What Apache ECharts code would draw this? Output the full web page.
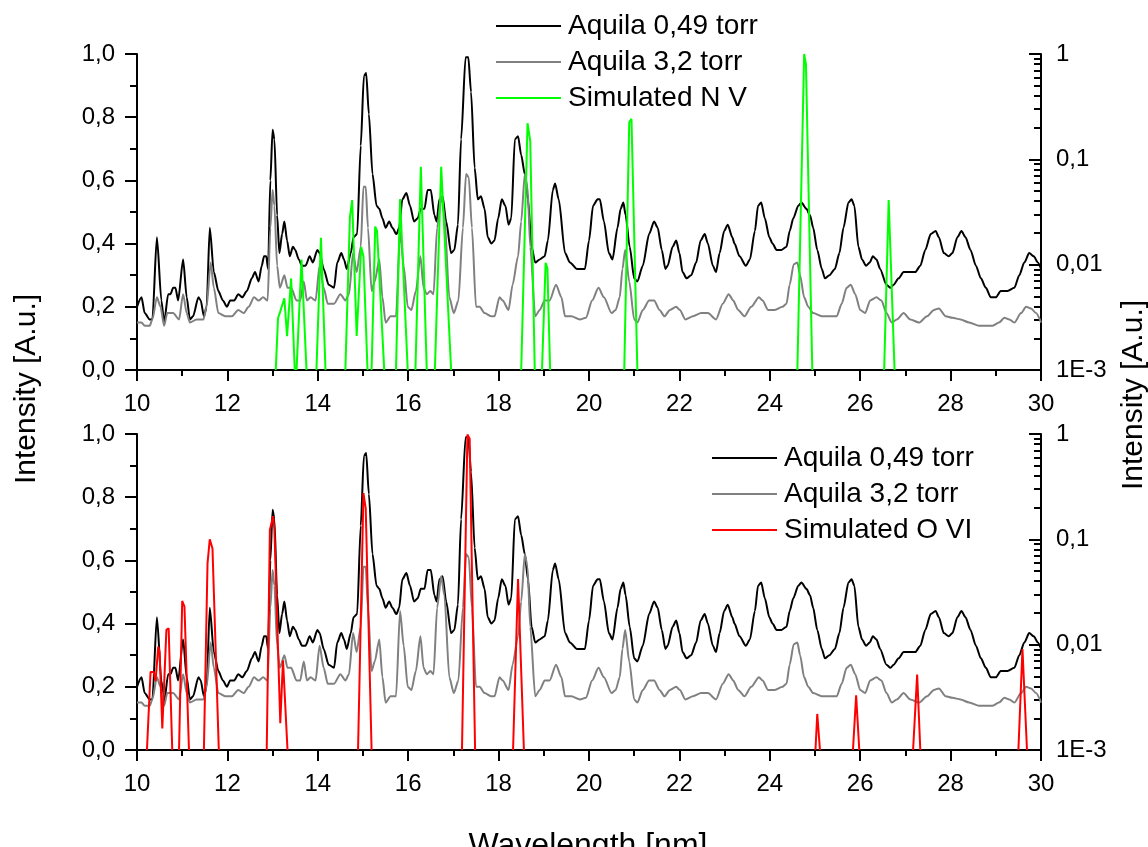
<!DOCTYPE html>
<html>
<head>
<meta charset="utf-8">
<script src="https://cdn.jsdelivr.net/npm/echarts@6/dist/echarts.min.js"></script>
<style>html,body{margin:0;padding:0;background:#fff}#c{width:1148px;height:847px}</style>
</head>
<body>
<div id="c"></div>
<script>
// ---- Data (wavelength in nm, intensity in a.u.) ----
const blackX = [10.0,10.1,10.17,10.28,10.34,10.44,10.54,10.6,10.69,10.74,10.8,10.85,10.91,11.02,11.1,11.17,11.24,11.36,11.41,11.48,11.54,11.61,11.7,11.8,11.9,11.99,12.06,12.15,12.24,12.33,12.43,12.54,12.61,12.69,12.76,12.81,12.86,12.9,12.95,13.0,13.04,13.1,13.15,13.21,13.26,13.32,13.38,13.45,13.5,13.58,13.65,13.73,13.82,13.89,13.99,14.04,14.13,14.24,14.36,14.43,14.52,14.58,14.64,14.73,14.79,14.87,14.95,15.02,15.07,15.13,15.21,15.3,15.36,15.43,15.5,15.58,15.65,15.74,15.8,15.87,15.96,16.04,16.13,16.21,16.28,16.36,16.43,16.5,16.58,16.63,16.69,16.76,16.84,16.95,17.02,17.1,17.17,17.27,17.33,17.39,17.47,17.54,17.61,17.69,17.76,17.84,17.91,17.99,18.07,18.15,18.22,18.28,18.36,18.43,18.5,18.58,18.65,18.73,18.81,18.91,19.02,19.09,19.2,19.25,19.33,19.47,19.58,19.73,19.91,20.0,20.09,20.19,20.24,20.33,20.44,20.52,20.63,20.7,20.76,20.81,20.9,21.0,21.07,21.19,21.33,21.44,21.52,21.61,21.69,21.74,21.85,21.93,22.0,22.07,22.16,22.26,22.37,22.47,22.56,22.63,22.74,22.81,22.89,22.99,23.07,23.17,23.22,23.33,23.47,23.56,23.67,23.74,23.81,23.89,23.99,24.06,24.15,24.26,24.37,24.44,24.52,24.63,24.7,24.81,24.89,24.96,25.05,25.15,25.22,25.32,25.44,25.54,25.63,25.74,25.81,25.87,25.96,26.04,26.13,26.21,26.28,26.36,26.44,26.58,26.67,26.74,26.85,26.96,27.11,27.22,27.33,27.44,27.56,27.67,27.74,27.85,27.96,28.04,28.15,28.24,28.33,28.44,28.56,28.67,28.78,28.89,29.0,29.11,29.26,29.41,29.52,29.63,29.74,29.84,29.93,30.0];
const blackY = [0.20,0.23,0.18,0.16,0.16,0.42,0.22,0.15,0.24,0.24,0.26,0.26,0.22,0.35,0.23,0.16,0.17,0.23,0.22,0.17,0.20,0.45,0.31,0.25,0.22,0.20,0.22,0.22,0.24,0.23,0.25,0.29,0.31,0.28,0.33,0.36,0.36,0.32,0.60,0.76,0.73,0.49,0.37,0.43,0.47,0.41,0.36,0.39,0.38,0.35,0.33,0.33,0.36,0.34,0.38,0.37,0.32,0.27,0.26,0.34,0.37,0.35,0.32,0.37,0.42,0.43,0.71,0.93,0.94,0.81,0.62,0.52,0.51,0.48,0.45,0.47,0.45,0.43,0.45,0.54,0.56,0.52,0.47,0.48,0.51,0.51,0.57,0.57,0.49,0.47,0.54,0.55,0.47,0.37,0.38,0.46,0.73,0.99,0.99,0.88,0.64,0.54,0.55,0.51,0.42,0.40,0.41,0.48,0.54,0.52,0.46,0.48,0.73,0.74,0.68,0.62,0.54,0.39,0.34,0.35,0.36,0.41,0.57,0.59,0.54,0.37,0.34,0.32,0.32,0.41,0.52,0.54,0.54,0.47,0.37,0.35,0.45,0.51,0.53,0.49,0.39,0.29,0.28,0.33,0.43,0.47,0.45,0.38,0.32,0.33,0.39,0.41,0.37,0.31,0.29,0.30,0.34,0.41,0.43,0.40,0.33,0.31,0.37,0.44,0.46,0.42,0.40,0.36,0.33,0.35,0.44,0.52,0.53,0.48,0.42,0.40,0.38,0.38,0.39,0.44,0.48,0.52,0.53,0.51,0.49,0.45,0.38,0.32,0.29,0.30,0.32,0.37,0.45,0.53,0.54,0.52,0.39,0.35,0.33,0.34,0.36,0.35,0.32,0.27,0.26,0.27,0.29,0.31,0.31,0.31,0.33,0.38,0.43,0.44,0.42,0.37,0.36,0.37,0.42,0.44,0.42,0.38,0.33,0.29,0.26,0.23,0.23,0.25,0.25,0.26,0.30,0.34,0.37,0.36,0.34,0.32];

const greyX = [10.0,10.1,10.17,10.28,10.34,10.44,10.52,10.6,10.67,10.8,10.93,11.02,11.1,11.17,11.32,11.47,11.54,11.63,11.7,11.8,11.95,12.1,12.24,12.36,12.47,12.59,12.69,12.79,12.89,12.95,13.0,13.04,13.1,13.16,13.26,13.33,13.41,13.53,13.61,13.69,13.76,13.84,13.95,14.04,14.13,14.22,14.36,14.5,14.61,14.69,14.78,14.86,14.95,15.01,15.06,15.11,15.19,15.26,15.36,15.43,15.5,15.61,15.73,15.82,15.9,15.99,16.07,16.17,16.27,16.34,16.41,16.49,16.56,16.64,16.73,16.8,16.91,17.01,17.11,17.21,17.28,17.34,17.41,17.5,17.58,17.69,17.83,17.91,18.02,18.09,18.22,18.31,18.43,18.5,18.58,18.64,18.7,18.81,18.91,19.02,19.13,19.27,19.39,19.47,19.61,19.8,19.93,20.07,20.21,20.33,20.5,20.59,20.68,20.74,20.8,20.89,21.0,21.07,21.19,21.33,21.44,21.56,21.67,21.79,21.93,22.01,22.13,22.3,22.48,22.63,22.81,22.96,23.09,23.19,23.3,23.44,23.59,23.76,23.84,23.96,24.11,24.28,24.37,24.44,24.53,24.61,24.67,24.76,24.85,24.96,25.15,25.37,25.48,25.59,25.7,25.79,25.89,26.0,26.11,26.22,26.36,26.47,26.58,26.7,26.81,26.96,27.11,27.3,27.48,27.63,27.74,27.89,28.04,28.22,28.41,28.63,28.93,29.07,29.19,29.3,29.41,29.56,29.67,29.78,29.89,30.0];
const greyY = [0.15,0.15,0.14,0.14,0.16,0.23,0.20,0.14,0.18,0.18,0.16,0.24,0.18,0.15,0.16,0.16,0.20,0.34,0.26,0.18,0.17,0.17,0.19,0.18,0.20,0.23,0.22,0.23,0.22,0.45,0.57,0.52,0.33,0.26,0.30,0.26,0.26,0.22,0.22,0.28,0.22,0.23,0.22,0.33,0.26,0.21,0.21,0.24,0.22,0.24,0.37,0.31,0.39,0.58,0.58,0.45,0.25,0.28,0.35,0.23,0.15,0.17,0.17,0.44,0.33,0.20,0.19,0.25,0.36,0.26,0.24,0.25,0.24,0.45,0.55,0.49,0.23,0.18,0.22,0.45,0.62,0.61,0.45,0.20,0.20,0.18,0.17,0.17,0.23,0.22,0.19,0.27,0.36,0.47,0.62,0.58,0.39,0.17,0.19,0.22,0.22,0.27,0.23,0.17,0.17,0.16,0.165,0.22,0.26,0.23,0.18,0.19,0.23,0.32,0.38,0.28,0.16,0.15,0.19,0.22,0.22,0.19,0.17,0.19,0.20,0.19,0.16,0.17,0.18,0.18,0.16,0.21,0.24,0.22,0.19,0.17,0.20,0.23,0.22,0.19,0.19,0.20,0.21,0.27,0.335,0.34,0.30,0.23,0.20,0.18,0.17,0.17,0.17,0.21,0.26,0.27,0.24,0.19,0.18,0.22,0.23,0.22,0.18,0.15,0.16,0.18,0.16,0.15,0.17,0.19,0.195,0.17,0.165,0.16,0.15,0.14,0.14,0.15,0.165,0.16,0.15,0.18,0.20,0.195,0.18,0.15];

// Simulated spectra (log scale); null separates individual lines
const nvX = [13.07,13.12,13.17,13.26,13.32,13.41,13.49,13.49, 13.53,13.64,13.75,13.75, 13.97,14.07,14.17,14.17, 14.61,14.71,14.76,14.86,14.96,15.01,15.1,15.1, 15.19,15.27,15.31,15.47,15.47, 15.73,15.82,15.99,15.99, 16.16,16.28,16.41,16.41, 16.59,16.73,16.95,16.95, 18.5,18.64,18.7,18.8,18.8, 18.96,19.04,19.08,19.14,19.14, 20.78,20.89,20.94,21.07,21.07, 24.61,24.76,24.8,24.94,24.94, 26.53,26.63,26.67,26.76];
const nvY = [0.001,0.0031,0.0036,0.0048,0.0021,0.0074,0.001,null, 0.001,0.0112,0.001,null, 0.001,0.018,0.001,null, 0.001,0.028,0.041,0.0021,0.0147,0.012,0.001,null, 0.001,0.023,0.021,0.001,null, 0.001,0.042,0.001,null, 0.001,0.085,0.001,null, 0.001,0.085,0.001,null, 0.001,0.22,0.15,0.001,null, 0.001,0.0104,0.0092,0.001,null, 0.001,0.225,0.242,0.001,null, 0.001,1.0,0.8,0.001,null, 0.001,0.041,0.042,0.001];

const ovX = [10.22,10.3,10.37,10.41,10.47,10.5,10.56,10.65,10.7,10.78,10.78, 10.93,11.0,11.05,11.15,11.15, 11.48,11.56,11.61,11.67,11.81,11.81, 12.87,12.94,13.01,13.04,13.17,13.23,13.26,13.33,13.33, 14.89,15.01,15.06,15.19,15.19, 17.19,17.31,17.36,17.48,17.48, 18.32,18.43,18.56,18.56, 25.01,25.05,25.11,25.11, 25.84,25.91,25.98,25.98, 27.17,27.26,27.33,27.33, 29.5,29.59,29.69];
const ovY = [0.001,0.0055,0.0055,0.0045,0.0096,0.0085,0.0016,0.0138,0.0143,0.001,null, 0.001,0.026,0.023,0.001,null, 0.001,0.059,0.10,0.082,0.001,null, 0.001,0.123,0.166,0.125,0.0018,0.0071,0.0073,0.001,null, 0.001,0.275,0.197,0.001,null, 0.001,0.99,0.9,0.001,null, 0.001,0.042,0.001,null, 0.001,0.0022,0.001,null, 0.001,0.0033,0.001,null, 0.001,0.0052,0.001,null, 0.001,0.0091,0.001];

const logLabels = {'0':'1','-1':'0,1','-2':'0,01','-3':'1E-3'};
// minor tick positions of the log axis (2..9 in each decade), expressed as decade exponents
const minorLogPos = [];
[-3,-2,-1].forEach(d => { for (let k = 2; k <= 9; k++) minorLogPos.push(d + Math.log10(k)); });

// ---- Helpers ----
const pairs = (xs, ys) => xs.map((x, i) => ys[i] == null ? [x, '-'] : [x, ys[i]]);
const FONT = '"Liberation Sans", Arial, sans-serif';
const black = '#000';
const TICK_FS = 24;

function xAxis(gi) {
  return {
    type: 'value', gridIndex: gi, min: 10, max: 30, interval: 2,
    axisLine: { onZero: false, lineStyle: { color: black, width: 2 } },
    axisTick: { length: 11, lineStyle: { color: black, width: 2 } },
    minorTick: { show: true, splitNumber: 2, length: 6, lineStyle: { color: black, width: 2 } },
    axisLabel: { color: black, fontSize: TICK_FS, fontFamily: FONT, margin: 22 },
    splitLine: { show: false }
  };
}
function yLeft(gi) {
  return {
    type: 'value', gridIndex: gi, position: 'left', min: 0, max: 1, interval: 0.2,
    axisLine: { show: true, lineStyle: { color: black, width: 2 } },
    axisTick: { show: true, length: 12, lineStyle: { color: black, width: 2 } },
    minorTick: { show: true, splitNumber: 2, length: 7, lineStyle: { color: black, width: 2 } },
    axisLabel: { color: black, fontSize: TICK_FS, fontFamily: FONT, margin: 22,
      formatter: v => v.toFixed(1).replace('.', ',') },
    splitLine: { show: false }
  };
}
function yRight(gi) {
  return {
    type: 'log', logBase: 10, gridIndex: gi, position: 'right', min: 0.001, max: 1,
    axisLine: { show: true, lineStyle: { color: black, width: 2 } },
    axisTick: { show: true, inside: true, length: 12, lineStyle: { color: black, width: 2 } },
    axisLabel: { color: black, fontSize: TICK_FS, fontFamily: FONT, margin: 15,
      formatter: v => logLabels[String(Math.round(Math.log10(v)))] || '' },
    splitLine: { show: false }
  };
}
function yRightMinor(gi) {
  return {
    type: 'value', gridIndex: gi, position: 'right', min: -3, max: 0, offset: 0,
    axisLine: { show: false },
    axisTick: { show: true, inside: true, length: 7, customValues: minorLogPos, lineStyle: { color: black, width: 2 } },
    axisLabel: { show: false },
    splitLine: { show: false }
  };
}
function lineSeries(name, xi, yi, data, color, smooth) {
  return { name, type: 'line', xAxisIndex: xi, yAxisIndex: yi, data, symbol: 'none',
    showSymbol: false, connectNulls: false, animation: false,
    smooth: smooth || false, smoothMonotone: 'x',
    lineStyle: { color, width: 2 }, itemStyle: { color } };
}

const legendText = { color: black, fontSize: 28, fontFamily: FONT, padding: [0, 0, 0, 2] };

const option = {
  animation: false,
  backgroundColor: '#fff',
  grid: [
    { left: 137, right: 107, top: 54, height: 316 },
    { left: 137, right: 107, top: 434, height: 316 }
  ],
  xAxis: [xAxis(0), xAxis(1)],
  yAxis: [yLeft(0), yRight(0), yRightMinor(0), yLeft(1), yRight(1), yRightMinor(1)],
  legend: [
    { orient: 'vertical', left: 496, top: 12, padding: 0, icon: 'rect', itemWidth: 65, itemHeight: 2, itemGap: 8,
      textStyle: legendText,
      data: ['Aquila 0,49 torr', 'Aquila 3,2 torr', 'Simulated N V'] },
    { orient: 'vertical', left: 712, top: 444, padding: 0, icon: 'rect', itemWidth: 65, itemHeight: 2, itemGap: 8,
      textStyle: legendText,
      data: ['Aquila 0,49 torr', 'Aquila 3,2 torr', 'Simulated O VI'] }
  ],
  series: [
    lineSeries('Aquila 0,49 torr', 0, 0, pairs(blackX, blackY), '#000000', 0.25),
    lineSeries('Aquila 3,2 torr', 0, 0, pairs(greyX, greyY), '#808080', 0.25),
    lineSeries('Simulated N V', 0, 1, pairs(nvX, nvY), '#00ff00'),
    lineSeries('Aquila 0,49 torr', 1, 3, pairs(blackX, blackY), '#000000', 0.25),
    lineSeries('Aquila 3,2 torr', 1, 3, pairs(greyX, greyY), '#808080', 0.25),
    lineSeries('Simulated O VI', 1, 4, pairs(ovX, ovY), '#ff0000')
  ],
  graphic: [
    { type: 'text', x: 27, y: 389, rotation: Math.PI / 2,
      style: { text: 'Intensity [A.u.]', fill: black, fontSize: 30, fontFamily: FONT, align: 'center', verticalAlign: 'middle' } },
    { type: 'text', x: 1134, y: 395, rotation: Math.PI / 2,
      style: { text: 'Intensity [A.u.]', fill: black, fontSize: 30, fontFamily: FONT, align: 'center', verticalAlign: 'middle' } },
    { type: 'text', x: 588, y: 846,
      style: { text: 'Wavelength [nm]', fill: black, fontSize: 32, fontFamily: FONT, align: 'center', verticalAlign: 'middle' } }
  ]
};

const chart = echarts.init(document.getElementById('c'), null, { renderer: 'canvas' });
chart.setOption(option);
</script>
</body>
</html>
